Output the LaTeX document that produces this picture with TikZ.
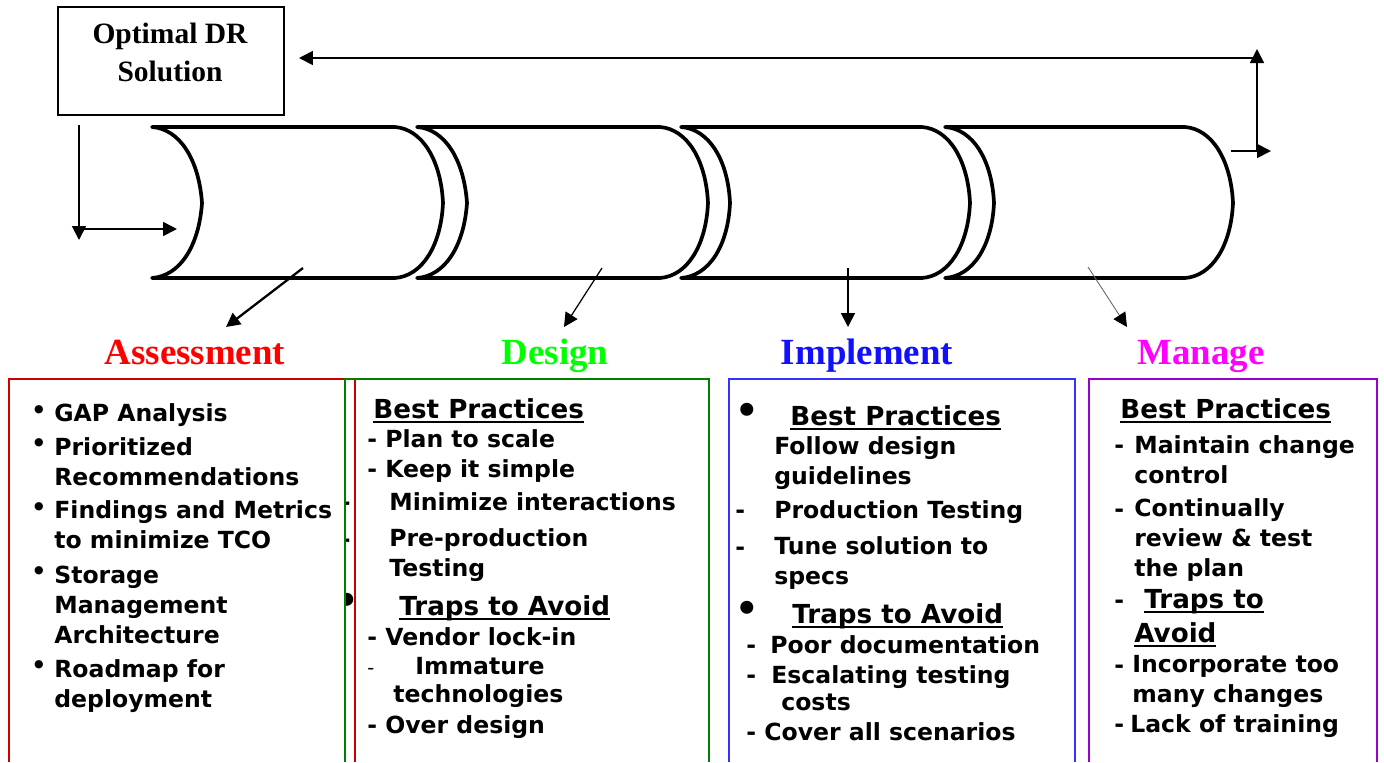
\documentclass[tikz,border=0pt]{standalone}
\usepackage{fontspec}
\setmainfont{DejaVu Sans}
\newfontfamily\titlefont{Liberation Serif}
\usetikzlibrary{arrows.meta}
\definecolor{asred}{HTML}{FF0000}
\definecolor{asframe}{HTML}{CC0000}
\definecolor{degreen}{HTML}{00FF00}
\definecolor{deframe}{HTML}{008000}
\definecolor{imblue}{HTML}{1010FF}
\definecolor{imframe}{HTML}{3333FF}
\definecolor{mamag}{HTML}{FF00FF}
\definecolor{maframe}{HTML}{9900CC}
\newcommand{\ulbox}[1]{\setbox0\hbox{#1}\rlap{\rule[-2.8pt]{\wd0}{1.1pt}}\box0}

\begin{document}
\begin{tikzpicture}[x=0.02cm, y=-0.02cm,
    >={Triangle[length=0.28cm,width=0.28cm]},
    chev/.style={line width=2.1pt, line join=round},
    frame/.style={line width=1.2pt},
    phase/.style={anchor=base, inner sep=0pt, font=\titlefont\bfseries\fontsize{21}{25}\selectfont},
    txt/.style={anchor=base west, inner sep=0pt, align=left, font=\bfseries\fontsize{13.4}{17.07}\selectfont},
    head/.style={anchor=base west, inner sep=0pt, font=\bfseries\fontsize{14.9}{19}\selectfont},
    dot/.style={inner sep=0pt, font=\bfseries\fontsize{13.4}{17}\selectfont},
    bigdot/.style={inner sep=0pt, font=\bfseries\fontsize{21}{25}\selectfont}]
        \useasboundingbox (0,0) rectangle (1384,762);

        \node[draw, frame, minimum width=4.52cm, minimum height=2.16cm, anchor=north west] (opt) at (57,6) {};
        \node[anchor=base, align=center, inner sep=0pt, font=\titlefont\bfseries\fontsize{16.8}{21.6}\selectfont] (optlbl) at (170,81) {Optimal DR\\Solution};

        % the four process stages
        \draw[chev] (152,127) -- (395,127) .. controls (422,129) and (441,160) .. (443,203) .. controls (441,246) and (422,276) .. (395,278) -- (152,278) .. controls (180,276) and (199,246) .. (202,203) .. controls (199,160) and (180,129) .. cycle;
        \draw[chev] (417,127) -- (660,127) .. controls (687,129) and (706,160) .. (708,203) .. controls (706,246) and (687,276) .. (660,278) -- (417,278) .. controls (445,276) and (464,246) .. (467,203) .. controls (464,160) and (445,129) .. cycle;
        \draw[chev] (681,127) -- (922,127) .. controls (949,129) and (968,160) .. (970,203) .. controls (968,246) and (949,276) .. (922,278) -- (681,278) .. controls (709,276) and (728,246) .. (730,203) .. controls (728,160) and (709,129) .. cycle;
        \draw[chev] (945,127) -- (1185,127) .. controls (1212,129) and (1231,160) .. (1233,203) .. controls (1231,246) and (1212,276) .. (1185,278) -- (945,278) .. controls (973,276) and (992,246) .. (994,203) .. controls (992,160) and (973,129) .. cycle;

        \coordinate (c1) at (303,268);
        \coordinate (c2) at (602,268);
        \coordinate (c3) at (848,268);
        \coordinate (c4) at (1088,267);
        \coordinate (t1) at (226,327);
        \coordinate (t2) at (564,327);
        \coordinate (t3) at (848,327);
        \coordinate (t4) at (1127,327);
        \draw[->][line width=1.3pt] (c1) -- (t1);
        \draw[->][line width=0.7pt] (c2) -- (t2);
        \draw[->][line width=1pt] (c3) -- (t3);
        \draw[-{Triangle[length=0.28cm,width=0.28cm,color=black]}][line width=0.5pt, black!60] (c4) -- (t4);

        % feedback loop
        \coordinate (ls) at (79,125);
        \coordinate (le) at (79,240);
        \coordinate (rs) at (81,229);
        \coordinate (re) at (177,229);
        \coordinate (os) at (1231,151);
        \coordinate (oe) at (1271,151);
        \coordinate (us) at (1257,151);
        \coordinate (ue) at (1257,49);
        \coordinate (bs) at (1257,58);
        \coordinate (be) at (299,58);
        \draw[->][line width=1pt] (ls) -- (le);
        \draw[->][line width=1pt] (rs) -- (re);
        \draw[->][line width=1pt] (os) -- (oe);
        \draw[->][line width=1pt] (us) -- (ue);
        \draw[->][line width=1pt] (bs) -- (be);

        \node[phase, asred]  (assess) at (195,364) {Assessment};
        \node[phase, degreen] (design) at (555,364) {Design};
        \node[phase, imblue] (impl)   at (867,364) {Implement};
        \node[phase, mamag]  (manage) at (1201,364) {Manage};

        \draw[frame, asframe] (9,762) |- (355,379) -- (355,762);
        \draw[frame, deframe] (345,762) |- (709,379) -- (709,762);
        \draw[frame, imframe] (729,762) |- (1075,379) -- (1075,762);
        \draw[frame, maframe] (1089,762) |- (1377,379) -- (1377,762);

        % assessment
        \node[dot] (ab1) at (39,412) {•};
        \node[dot] (ab2) at (39,445) {•};
        \node[dot] (ab3) at (39,509) {•};
        \node[dot] (ab4) at (39,573) {•};
        \node[dot] (ab5) at (39,667) {•};
        \node[txt] (a1) at (54,421) {GAP Analysis};
        \node[txt] (a2) at (54,485) {Prioritized\\Recommendations};
        \node[txt] (a3) at (54,548) {Findings and Metrics\\to minimize TCO};
        \node[txt] (a4) at (54,643) {Storage\\Management\\Architecture};
        \node[txt] (a5) at (54,707) {Roadmap for\\deployment};

        % design
        \begin{scope}
            \clip (346.5,480) rectangle (354,620);
            \node[txt] (dm1) at (340.5,510) {-};
            \node[txt] (dm2) at (340.5,547) {-};
            \node[bigdot] (dm3) at (347,603) {•};
        \end{scope}
        \node[head] (d0) at (373,418) {\ulbox{Best Practices}};
        \node[txt] (d1) at (367,447) {- Plan to scale};
        \node[txt] (d2) at (367,477) {- Keep it simple};
        \node[txt] (d3) at (389,510) {Minimize interactions};
        \node[txt] (d4) at (389,576) {Pre-production\\Testing};
        \node[head] (d5) at (399,615) {\ulbox{Traps to Avoid}};
        \node[txt] (d6) at (367,645) {- Vendor lock-in};
        \node[txt, font=\fontsize{11}{13}\selectfont] (d7) at (367,674) {-};
        \node[txt] (d8) at (415,674) {Immature};
        \node[txt] (d9) at (393,702) {technologies};
        \node[txt] (d10) at (367,733) {- Over design};

        % implement
        \node[bigdot] (ib1) at (747,413) {•};
        \node[bigdot] (ib2) at (747,611) {•};
        \node[head] (i0) at (790,425) {\ulbox{Best Practices}};
        \node[txt] (i1) at (774,484) {Follow design\\guidelines};
        \node[txt] (im1) at (735,518) {-};
        \node[txt] (i2) at (774,518) {Production Testing};
        \node[txt] (im2) at (735,555) {-};
        \node[txt] (i3) at (774,584) {Tune solution to\\specs};
        \node[head] (i4) at (792,623) {\ulbox{Traps to Avoid}};
        \node[txt] (im3) at (746,653) {-};
        \node[txt] (i5) at (770,653) {Poor documentation};
        \node[txt] (im4) at (746,683) {-};
        \node[txt] (i6) at (771,683) {Escalating testing};
        \node[txt] (i7) at (781,710) {costs};
        \node[txt] (i8) at (746,740) {- Cover all scenarios};

        % manage
        \node[head] (m0) at (1120,418) {\ulbox{Best Practices}};
        \node[txt] (mm1) at (1114,453) {-};
        \node[txt] (m1) at (1134,483) {Maintain change\\control};
        \node[txt] (mm2) at (1114,517) {-};
        \node[txt] (m2) at (1134,576) {Continually\\review \& test\\the plan};
        \node[txt] (mm3) at (1114,608) {-};
        \node[head] (m3) at (1144,608) {\ulbox{Traps to}};
        \node[head] (m4) at (1134,642) {\ulbox{Avoid}};
        \node[txt] (mm4) at (1114,673) {-};
        \node[txt] (m5) at (1132,702) {Incorporate too\\many changes};
        \node[txt] (mm5) at (1114,732) {-};
        \node[txt] (m6) at (1130,732) {Lack of training};
    \end{tikzpicture}
\end{document}
